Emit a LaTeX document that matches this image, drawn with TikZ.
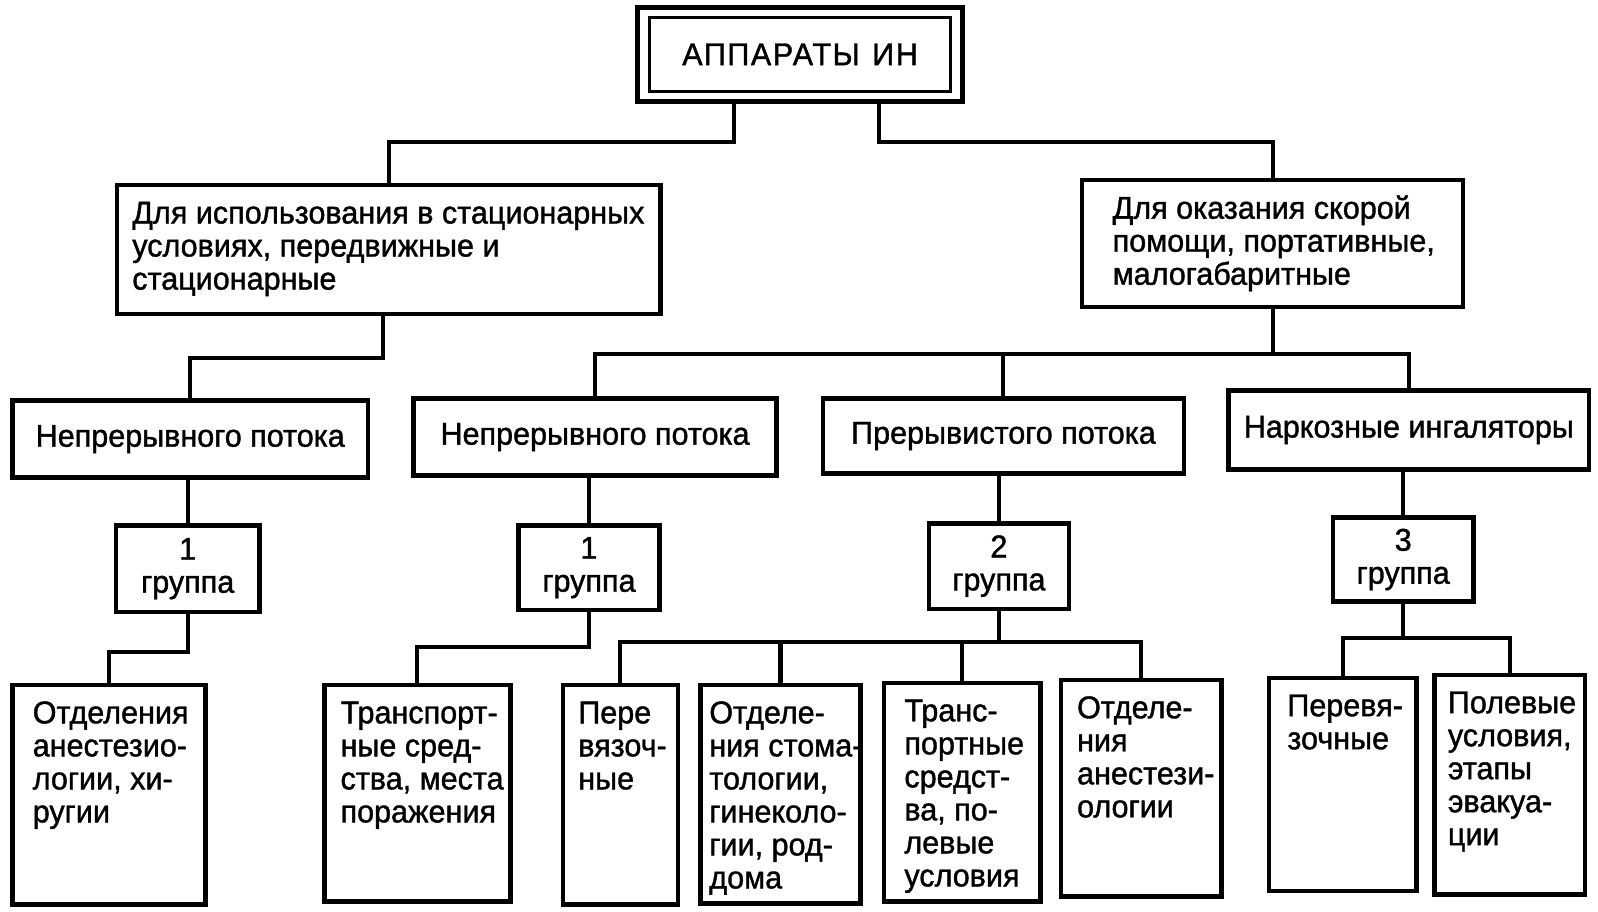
\documentclass[tikz,border=0pt]{standalone}
\usepackage{fontspec}
\setmainfont{Liberation Sans}[FakeStretch=0.97, BoldFont={Liberation Sans}, BoldFeatures={FakeBold=1.2}]
\usetikzlibrary{calc}
\hyphenpenalty=10000
\exhyphenpenalty=10000
\newcommand{\tbx}[4]{\begin{minipage}[t][#2pt][t]{#1pt}\vspace*{15pt}\hspace*{#3pt}\begin{tabular}[t]{@{}l@{}}#4\end{tabular}\end{minipage}}
\tikzset{
  frame/.style={draw, line width=4.5pt, rectangle, inner sep=0pt, anchor=north west,
    font=\bfseries\fontsize{31}{32.5}\selectfont},
  lbl/.style={frame, align=center},
  conn/.style={line width=4pt}
}
\begin{document}
\begin{tikzpicture}[x=1pt,y=-1pt]
\useasboundingbox (0,0) rectangle (1573,897.6);
\fill[white] (0,0) rectangle (1573,897.6);
% top
\node[frame, line width=5pt, minimum width=320pt, minimum height=92pt] (top) at (625,5) {\addfontfeatures{LetterSpace=5}АППАРАТЫ\hspace{0.4em}ИН};
\draw[line width=3pt] ([shift={(14,12)}]top.north west) rectangle ([shift={(-14,-12)}]top.south east);
% row 2
\node[frame] (lb) at (113,180) {\tbx{535}{127}{15}{Для использования в стационарных\\условиях, передвижные и\\стационарные}};
\node[frame] (rb) at (1063,175) {\tbx{375}{125}{30}{Для оказания скорой\\помощи, портативные,\\малогабаритные}};
% row 3
\node[lbl, minimum width=350pt, minimum height=76pt] (a) at (10,392) {Непрерывного потока};
\node[lbl, minimum width=357pt, minimum height=76pt] (b) at (405,390) {Непрерывного потока};
\node[lbl, minimum width=355pt, minimum height=74pt] (c) at (808,390) {Прерывистого потока};
\node[lbl, minimum width=355pt, minimum height=78pt] (d) at (1207,382) {Наркозные ингаляторы};
% groups
\node[lbl, minimum width=141pt, minimum height=85pt] (g1) at (112,515) {1\\группа};
\node[lbl, minimum width=139pt, minimum height=83pt] (g2) at (508,515) {1\\группа};
\node[lbl, minimum width=138pt, minimum height=84pt] (g3) at (912,513) {2\\группа};
\node[lbl, minimum width=138pt, minimum height=83pt] (g4) at (1310,507) {3\\группа};
% leaves
\node[frame] (l1) at (10,672) {\tbx{190}{216}{20}{Отделения\\анестезио-\\логии, хи-\\ругии}};
\node[frame] (l2) at (317,672) {\tbx{183}{213}{16}{Транспорт-\\ные сред-\\ства, места\\поражения}};
\node[frame] (l3) at (552,672) {\tbx{113}{216}{15}{Пере\\вязоч-\\ные}};
\node[frame] (l4) at (687,672) {\tbx{158}{215}{9}{Отделе-\\ния стома-\\тологии,\\гинеколо-\\гии, род-\\дома}};
\node[frame] (l5) at (868,670) {\tbx{154}{215}{20}{Транс-\\портные\\средст-\\ва, по-\\левые\\условия}};
\node[frame] (l6) at (1042,667) {\tbx{158}{213}{16}{Отделе-\\ния\\анестези-\\ологии}};
\node[frame] (l7) at (1247,665) {\tbx{145}{210}{18}{Перевя-\\зочные}};
\node[frame] (l8) at (1410,662) {\tbx{148}{216}{13}{Полевые\\условия,\\этапы\\эвакуа-\\ции}};
% connectors
\coordinate (tl) at ($(top.south west)!0.30!(top.south east)$);
\coordinate (tr) at ($(top.south west)!0.74!(top.south east)$);
\draw[conn] (tl) -- ++(0,38) -| (lb.north);
\draw[conn] (tr) -- ++(0,38) -| (rb.north);
\draw[conn] ($(lb.south west)!0.49!(lb.south east)$) -- ++(0,41) -| (a.north);
\coordinate (bus2) at (0,348);
\draw[conn] (b.north) |- (d.north |- bus2) -- (d.north);
\draw[conn] (c.north) -- (c.north |- bus2);
\draw[conn] (rb.south) -- (rb.south |- bus2);
\draw[conn] (g1.north) -- (g1.north |- a.south);
\draw[conn] (g2.north) -- (g2.north |- b.south);
\draw[conn] (g3.north) -- (g3.north |- c.south);
\draw[conn] (g4.north) -- (g4.north |- d.south);
\draw[conn] (g1.south) -- ++(0,37) -| (l1.north);
\draw[conn] (g2.south) -- ++(0,34) -| (l2.north);
\coordinate (bus3) at (0,632);
\draw[conn] (l3.north) |- (l6.north |- bus3) -- (l6.north);
\draw[conn] (l4.north) -- (l4.north |- bus3);
\draw[conn] (l5.north) -- (l5.north |- bus3);
\draw[conn] (g3.south) -- (g3.south |- bus3);
\coordinate (bus4) at (0,628);
\draw[conn] (l7.north) |- (l8.north |- bus4) -- (l8.north);
\draw[conn] (g4.south) -- (g4.south |- bus4);
\end{tikzpicture}
\end{document}
